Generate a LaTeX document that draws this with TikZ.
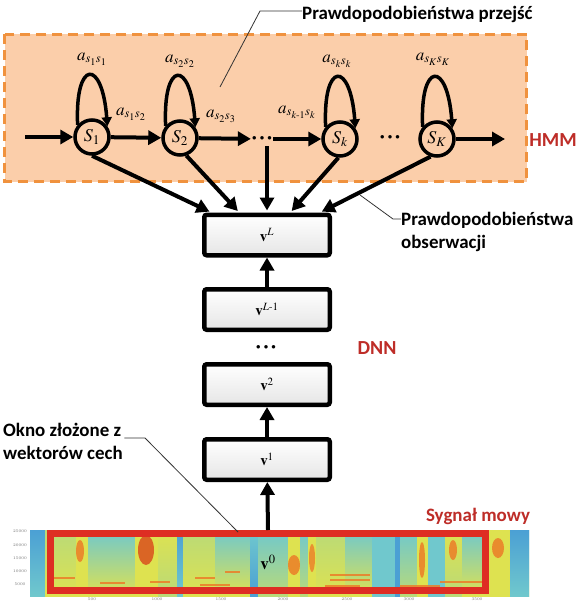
\documentclass[tikz,border=0pt]{standalone}
\usepackage{amsmath}
\usepackage{mathptmx}
\usepackage{fontspec}
\newfontfamily\lblfont{Carlito}
\usetikzlibrary{arrows.meta}
\definecolor{hmmfill}{RGB}{251,206,170}
\definecolor{hmmdash}{RGB}{240,146,62}
\definecolor{lblred}{RGB}{190,45,40}
\definecolor{sigred}{RGB}{222,45,35}
\definecolor{specY}{RGB}{222,226,80}
\definecolor{specG}{RGB}{185,218,120}
\definecolor{specC}{RGB}{112,200,205}
\definecolor{specB}{RGB}{75,160,212}
\definecolor{specO}{RGB}{236,125,40}
\definecolor{specR}{RGB}{218,80,30}
\newcommand\selfloop[1]{\draw[loopline] (#1.140) .. controls +(-3,-66) and +(-5,-68) .. (#1.35);}
\newcommand\speccol[4]{\shade[top color=#3, bottom color=#4] (#1,530) rectangle (#2,596);}
\newcommand\heavydots{$\bullet\;\bullet\;\bullet$}
\begin{document}
\begin{tikzpicture}[x=1bp,y=-1bp,
  lbl/.style={font=\lblfont\bfseries\fontsize{19}{22}\selectfont, inner sep=0pt, anchor=west},
  redlbl/.style={font=\lblfont\bfseries\fontsize{20}{22}\selectfont, text=lblred, inner sep=0pt},
  state/.style={circle, draw, line width=3.5bp, minimum size=34bp, inner sep=0pt, font=\fontsize{18}{20}\selectfont},
  layer/.style={draw, line width=4.5bp, rounded corners=2.5bp, minimum width=125.5bp, minimum height=40.5bp, top color=white, bottom color=black!10, inner sep=0pt, font=\fontsize{15}{17}\selectfont},
  bigarrow/.style={line width=4bp, -{Triangle[length=13bp,width=14bp]}},
  loopline/.style={line width=3.5bp, -{Triangle[length=9bp,width=10bp]}},
  trans/.style={font=\fontsize{17}{19}\selectfont, inner sep=0pt},
  leader/.style={line width=0.8bp, black!80},
  dotsnode/.style={font=\fontsize{9}{9}\selectfont, inner sep=1pt},
  tick/.style={font=\fontsize{4}{5}\selectfont, text=black!55, inner sep=0pt}
]
\useasboundingbox (0,0) rectangle (587,603);
\fill[white] (0,0) rectangle (587,603);
% HMM region
\draw[hmmdash, fill=hmmfill, line width=3.5bp, dash pattern=on 10bp off 6bp] (4.5,34.5) rectangle (526.5,181.5);
\node[redlbl] (hmmlbl) at (553,140) {HMM};
% states
\node[state] (s1) at (92,137) {$S_1$};
\node[state] (s2) at (180,138) {$S_2$};
\node[state] (sk) at (340,139) {$S_k$};
\node[state] (sK) at (437,139) {$S_K$};
\node[dotsnode] (d1) at (262,139) {\heavydots};
\node[dotsnode] (d2) at (390,138) {\heavydots};
\coordinate (inp) at (25,137);
\coordinate (outp) at (505,139);
\selfloop{s1}
\selfloop{s2}
\selfloop{sk}
\selfloop{sK}
\draw[bigarrow] (inp) -- (s1);
\draw[bigarrow] (s1) -- (s2);
\draw[bigarrow] (s2) -- (d1);
\draw[bigarrow] (d1) -- (sk);
\draw[bigarrow] (sK) -- (outp);
% transition labels
\node[trans] (a11) at (92,59) {$a_{s_1s_1}$};
\node[trans] (a12) at (131,114) {$a_{s_1s_2}$};
\node[trans] (a22) at (180,61) {$a_{s_2s_2}$};
\node[trans] (a23) at (221,116) {$a_{s_2s_3}$};
\node[trans] (ak1k) at (297,112) {$a_{s_{k\text{-}1}s_k}$};
\node[trans] (akk) at (337,61) {$a_{s_ks_k}$};
\node[trans] (aKK) at (433,59) {$a_{s_Ks_K}$};
% DNN layers
\node[layer] (vL) at (267,235) {$\mathbf{v}^{L}$};
\node[layer] (vL1) at (267,309.5) {$\mathbf{v}^{L\text{-}1}$};
\node[dotsnode] (d3) at (266,348) {\heavydots};
\node[layer] (v2) at (267,384.5) {$\mathbf{v}^{2}$};
\node[layer] (v1) at (267,459.5) {$\mathbf{v}^{1}$};
\node[redlbl] (dnnlbl) at (377,348) {DNN};
% emission arrows
\draw[bigarrow, shorten >=2bp] (s1.south) -- (vL.158);
\draw[bigarrow, shorten >=2bp] (s2.290) -- (vL.141);
\draw[bigarrow, shorten >=2bp, shorten <=4bp] (d1.south -| vL.north) -- (vL.north);
\draw[bigarrow, shorten >=2bp] (sk.265) -- (vL.44);
\draw[bigarrow, shorten >=2bp] (sK.250) -- (vL.23);
\draw[bigarrow] (vL1) -- (vL);
\draw[bigarrow] (v1) -- (v2);
% spectrogram
\begin{scope}
\clip (30,530) rectangle (529,596);
\shade[top color=specC, bottom color=specY] (30,530) rectangle (529,596);
\speccol{30}{45}{specB}{specC}
\speccol{45}{76}{specG}{specY}
\speccol{76}{88}{specY}{specY}
\speccol{88}{135}{specC}{specY}
\speccol{135}{158}{specY}{specY}
\speccol{158}{177}{specY}{specG}
\speccol{177}{183}{specB}{specC}
\speccol{183}{215}{specG}{specY}
\speccol{215}{250}{specC}{specY}
\speccol{250}{258}{specC}{specB}
\speccol{258}{288}{specC}{specG}
\speccol{288}{300}{specY}{specY}
\speccol{300}{308}{specC}{specG}
\speccol{308}{316}{specY}{specY}
\speccol{316}{345}{specG}{specY}
\speccol{345}{372}{specC}{specY}
\speccol{372}{395}{specC}{specC}
\speccol{395}{400}{specB}{specB}
\speccol{400}{417}{specC}{specG}
\speccol{417}{428}{specY}{specY}
\speccol{428}{445}{specC}{specC}
\speccol{445}{462}{specY}{specG}
\speccol{462}{488}{specC}{specY}
\speccol{488}{510}{specY}{specY}
\speccol{510}{529}{specB}{specC}
\fill[specO, opacity=0.85] (80,551) ellipse [x radius=4, y radius=11];
\fill[specR, opacity=0.85] (146,550) ellipse [x radius=8, y radius=15];
\fill[specO, opacity=0.85] (294,565) ellipse [x radius=6, y radius=10];
\fill[specO, opacity=0.8] (312,558) ellipse [x radius=3, y radius=14];
\fill[specO, opacity=0.85] (422,560) ellipse [x radius=3, y radius=18];
\fill[specO, opacity=0.85] (453,550) ellipse [x radius=4, y radius=10];
\fill[specO, opacity=0.85] (498,548) ellipse [x radius=6, y radius=10];
\foreach \xa/\xb/\yy in {52/75/578, 100/125/583, 150/170/582, 195/215/578, 200/230/585, 225/240/572, 330/370/575, 330/370/580, 325/360/586, 440/485/582, 400/440/586}
  \draw[specO, line width=2.5bp, opacity=0.85] (\xa,\yy) -- (\xb,\yy);
\end{scope}
\foreach \yy/\lab in {531/25000, 545/20000, 558/15000, 571/10000, 584/5000}
  \node[tick] at (20,\yy) {\lab};
\foreach \xx/\lab in {92/500, 157/1000, 221/1500, 283/2000, 347/2500, 409/3000, 477/3500}
  \node[tick] at (\xx,599) {\lab};
\node[draw=sigred, line width=7bp, minimum width=435bp, minimum height=57bp, inner sep=0pt, font=\fontsize{17}{19}\selectfont] (v0) at (268,562) {$\mathbf{v}^{0}$};
\draw[bigarrow] (v0.north) -- (v1);
\node[redlbl, font=\lblfont\bfseries\fontsize{19}{21}\selectfont] (siglbl) at (478,516) {Sygnał mowy};
% labels with leaders
\node[lbl] (ptrans) at (302,14) {Prawdopodobieństwa przejść};
\coordinate (pt1) at (220,87);
\coordinate (pt2) at (260,11);
\draw[leader] (pt1) -- (pt2) -- (ptrans.west |- pt2);
\node[lbl] (pobs1) at (401,220) {Prawdopodobieństwa};
\node[lbl] (pobs2) at (401,243) {obserwacji};
\coordinate (po1) at (360,195);
\coordinate (po2) at (393,219);
\draw[leader] (po1) -- (po2) -- (pobs1.west |- po2);
\node[lbl] (okno1) at (3,430) {Okno złożone z};
\node[lbl] (okno2) at (3,453) {wektorów cech};
\coordinate (ok1) at (145,438);
\coordinate (ok2) at (238,532);
\draw[leader] (okno1.east |- ok1) ++(3,0) -- (ok1) -- (ok2);
\end{tikzpicture}
\end{document}
